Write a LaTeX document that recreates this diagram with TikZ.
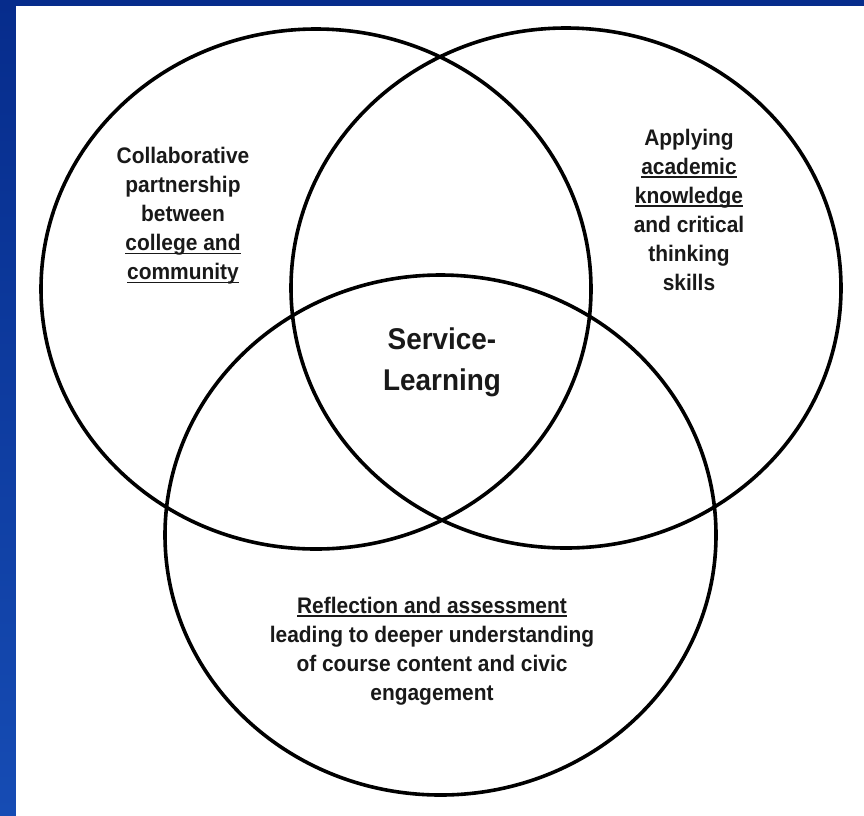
\documentclass[tikz,border=0pt]{standalone}
\usepackage{fontspec}
\setmainfont{Liberation Sans}[FakeStretch=0.93]
% underline drawn just below the baseline, as wide as the words
\newcommand\ulx[1]{\setbox0\hbox{#1}\rlap{\rule[-3.5pt]{\wd0}{1.6pt}}\box0}
\definecolor{slidetop}{RGB}{6,44,140}
\definecolor{slidebottom}{RGB}{22,76,180}
\begin{document}
\begin{tikzpicture}[x=1pt,y=-1pt,
  ring/.style={draw=black, line width=3.6pt},
  label/.style={font=\fontsize{22.5}{29}\selectfont\bfseries, align=center, text=black!90, inner sep=0pt},
  core/.style={font=\fontsize{30}{41}\selectfont\bfseries, align=center, text=black!90, inner sep=0pt}]
\useasboundingbox (0,0) rectangle (864,815);
% slide background and white panel
\shade[top color=slidetop, bottom color=slidebottom] (0,0) rectangle (864,815);
\fill[white] (16,6) rectangle (870,821);
% the three overlapping circles
\draw[ring] (316,289) ellipse [x radius=275, y radius=260];
\draw[ring] (566,288) ellipse [x radius=275, y radius=260];
\draw[ring] (440.5,535) ellipse [x radius=275.5, y radius=260];
% labels
\node[label] (partner) at (183,216) {Collaborative\\partnership\\between\\\ulx{college and}\\\ulx{community}};
\node[label] (apply) at (689,210) {Applying\\\ulx{academic}\\\ulx{knowledge}\\and critical\\thinking\\skills};
\node[label] (reflect) at (432,651) {\ulx{Reflection and assessment}\\leading to deeper understanding\\of course content and civic\\engagement};
\node[core] (sl) at (442,362) {Service-\\Learning};
\end{tikzpicture}
\end{document}
